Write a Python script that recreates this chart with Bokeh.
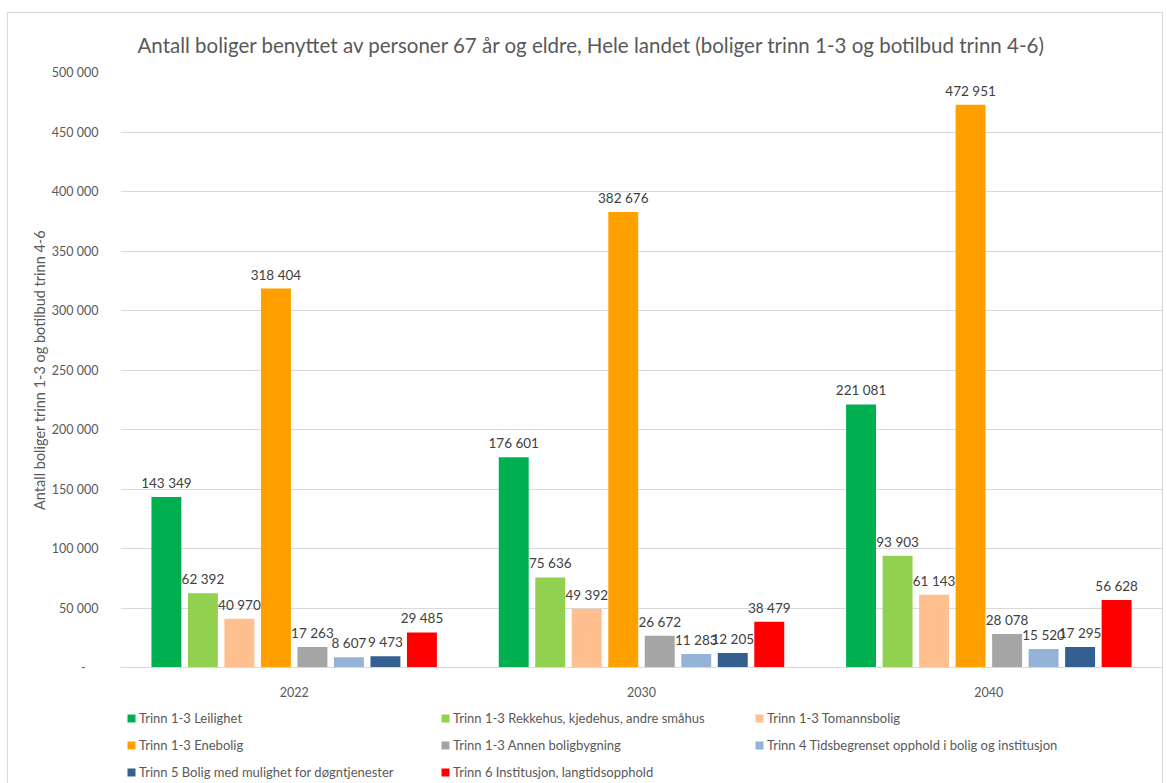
from bokeh.plotting import figure
from bokeh.layouts import column
from bokeh.models import (FactorRange, Legend, LegendItem, CustomJSTickFormatter,
                          SingleIntervalTicker, ColumnDataSource)
from bokeh.transform import dodge
from bokeh.core.properties import value
from bokeh.embed import file_html
from bokeh.resources import INLINE

years = ["2022", "2030", "2040"]
series_names = [
    "Trinn 1-3 Leilighet",
    "Trinn 1-3 Rekkehus, kjedehus, andre småhus",
    "Trinn 1-3 Tomannsbolig",
    "Trinn 1-3 Enebolig",
    "Trinn 1-3 Annen boligbygning",
    "Trinn 4 Tidsbegrenset opphold i bolig og institusjon",
    "Trinn 5 Bolig med mulighet for døgntjenester",
    "Trinn 6 Institusjon, langtidsopphold",
]
leilighet = [143349, 176601, 221081]
rekkehus = [62392, 75636, 93903]
tomannsbolig = [40970, 49392, 61143]
enebolig = [318404, 382676, 472951]
annen = [17263, 26672, 28078]
trinn4 = [8607, 11283, 15520]
trinn5 = [9473, 12205, 17295]
trinn6 = [29485, 38479, 56628]
series_values = [leilighet, rekkehus, tomannsbolig, enebolig, annen, trinn4, trinn5, trinn6]
colors = ["#00B050", "#92D050", "#FFBF8E", "#FFA000", "#A5A5A5", "#95B3D7", "#335F91", "#FF0000"]

title_text = "Antall boliger benyttet av personer 67 år og eldre, Hele landet (boliger trinn 1-3 og botilbud trinn 4-6)"
y_label = "Antall boliger trinn 1-3 og botilbud trinn 4-6"

FONT = "Lato"
TXT = "#595959"

p = figure(width=1154, height=687, x_range=FactorRange(*years), y_range=(0, 500000),
           output_backend="svg", toolbar_location=None,
           min_border_left=112, min_border_right=0, min_border_top=59, min_border_bottom=33)
p.background_fill_color = "white"
p.border_fill_color = "white"
p.outline_line_color = None

p.title.text = title_text
p.title.align = "left"
p.title.offset = 17
p.title.text_font = FONT
p.title.text_font_size = "20.5px"
p.title.text_font_style = "normal"
p.title.text_color = TXT
p.title.standoff = 31

slot = 0.1051
bw = 0.0862
for i, (name, vals, col) in enumerate(zip(series_names, series_values, colors)):
    off = (i - 3.5) * slot
    src = ColumnDataSource(dict(year=years, val=vals,
                                lab=[f"{v:,}".replace(",", " ") for v in vals]))
    p.vbar(x=dodge("year", off, range=p.x_range), top="val", width=bw, source=src,
           fill_color=col, line_color=None)
    p.text(x=dodge("year", off, range=p.x_range), y="val", text="lab", source=src,
           text_align="center", text_baseline="bottom", y_offset=-6,
           text_font=value(FONT), text_font_size="13.5px", text_color="#404040")

p.yaxis.ticker = SingleIntervalTicker(interval=50000, num_minor_ticks=0)
p.yaxis.formatter = CustomJSTickFormatter(code="""
if (tick == 0) return '-\\u00a0\\u00a0\\u00a0\\u00a0';
return Math.round(tick).toString().replace(/\\B(?=(\\d{3})+(?!\\d))/g, ' ');
""")
p.yaxis.axis_label = y_label
p.yaxis.axis_label_text_font = FONT
p.yaxis.axis_label_text_font_size = "14.5px"
p.yaxis.axis_label_text_font_style = "normal"
p.yaxis.axis_label_text_color = TXT
p.yaxis.axis_label_standoff = 1
p.yaxis.axis_line_color = None
p.yaxis.major_tick_line_color = None
p.yaxis.minor_tick_line_color = None
p.yaxis.major_label_text_font = FONT
p.yaxis.major_label_text_font_size = "12.5px"
p.yaxis.major_label_text_color = TXT
p.yaxis.major_label_standoff = 16

p.xaxis.axis_line_color = "#D9D9D9"
p.xaxis.major_tick_line_color = None
p.xaxis.minor_tick_line_color = None
p.xaxis.major_label_text_font = FONT
p.xaxis.major_label_text_font_size = "12.5px"
p.xaxis.major_label_text_color = TXT
p.xaxis.major_label_standoff = 13

p.xgrid.grid_line_color = None
p.ygrid.grid_line_color = "#D9D9D9"
p.ygrid.grid_line_width = 1

# legend strip below the chart
lg = figure(width=1154, height=83, x_range=(0, 1), y_range=(0, 1),
            x_axis_location=None, y_axis_location=None,
            output_backend="svg", toolbar_location=None,
            min_border_left=0, min_border_right=0, min_border_top=0, min_border_bottom=0)
lg.grid.grid_line_color = None
lg.outline_line_color = None
lg.background_fill_color = "white"
lg.border_fill_color = "white"
items = []
for name, col in zip(series_names, colors):
    r = lg.vbar(x=[-5], top=[-5], width=0.1, fill_color=col, line_color=None)
    items.append(LegendItem(label=name, renderers=[r]))
legend = Legend(items=items, ncols=3, orientation="horizontal",
                glyph_width=10, glyph_height=10, label_standoff=3, label_width=291,
                label_height=17, spacing=10, padding=0, margin=0,
                label_text_font=FONT, label_text_font_size="13px", label_text_color=TXT,
                border_line_color=None, background_fill_alpha=0, location=(6, 3))
lg.add_layout(legend, "center")

layout = column(p, lg, spacing=0, margin=(12, 0, 0, 7),
                styles={"border": "1px solid #D9D9D9"})
open("out.html", "w").write(file_html(layout, INLINE))
